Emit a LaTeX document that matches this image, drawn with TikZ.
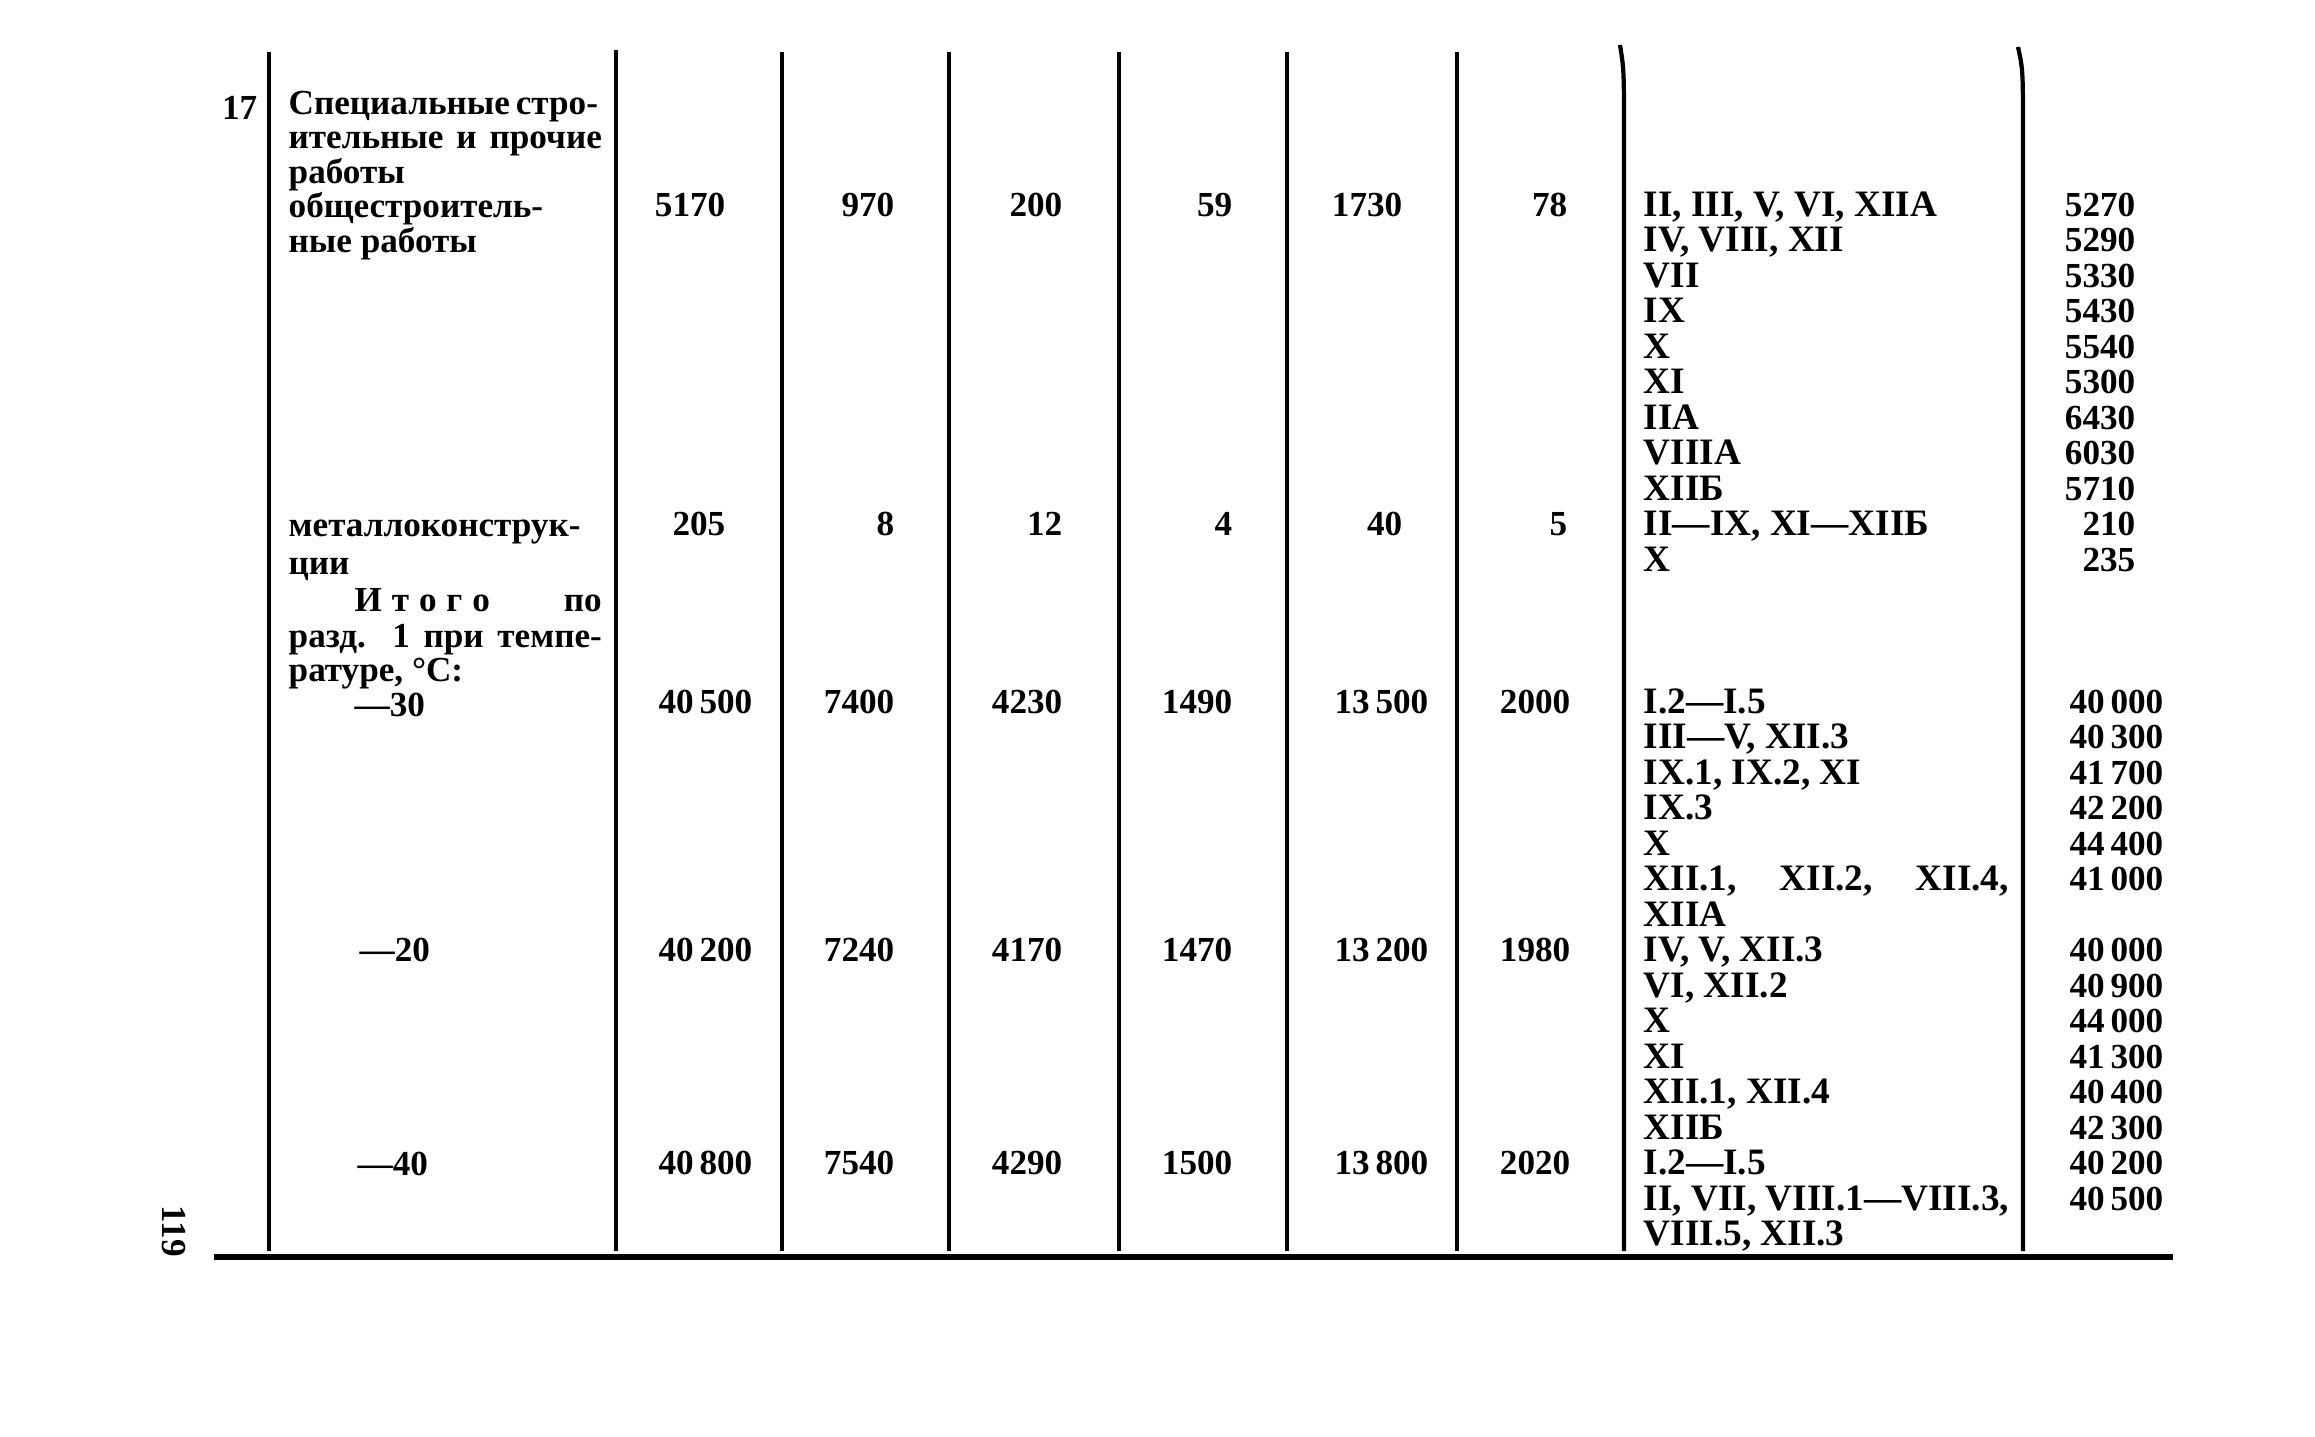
\documentclass[tikz,border=0pt]{standalone}
\usepackage{fontspec}
\setmainfont{Liberation Serif}
\tikzset{
  txt/.style={inner sep=0pt, anchor=mid west, yshift=-1.2pt, font=\fontsize{10}{10}\selectfont\bfseries},
  rom/.style={txt, font=\fontsize{10.6}{10.6}\selectfont\bfseries},
  num/.style={inner sep=0pt, anchor=mid east, yshift=-1.2pt, font=\fontsize{10}{10}\selectfont\bfseries},
  rule/.style={line width=1.2pt}
}
\begin{document}
\begin{tikzpicture}[x=0.01cm,y=-0.01cm]
\useasboundingbox (0,0) rectangle (2315,1437);
\draw [rule] (269,52) -- (269,1251);
\draw [rule] (616,50) -- (616,1251);
\draw [rule] (782,52) -- (782,1251);
\draw [rule] (949,52) -- (949,1251);
\draw [rule] (1119,52) -- (1119,1251);
\draw [rule] (1287,52) -- (1287,1251);
\draw [rule] (1457,52) -- (1457,1251);
\draw [rule] (1620,45) .. controls (1624,70) .. (1624,140) -- (1624,1251);
\draw [rule] (2018,47) .. controls (2023,70) .. (2023,140) -- (2023,1251);
\draw [line width=1.5pt] (214,1257) -- (2173,1257);
\node [num] (item) at (258,107) {17};
\node [txt, anchor=center, rotate=-90, yshift=1.2pt] (page) at (170,1227) {119};
\node [txt] (t1) at (288,102) {\makebox[3.03cm][s]{Специальные стро-}};
\node [txt] (t2) at (288,136) {\makebox[3.13cm][s]{ительные и прочие}};
\node [txt] (t3) at (288,171) {работы};
\node [txt] (t4) at (288,205) {общестроитель-};
\node [txt] (t5) at (288,240) {ные работы};
\node [txt] (t6) at (288,524) {металлоконструк-};
\node [txt] (t7) at (288,562) {ции};
\node [txt] (t8) at (354,599) {\makebox[2.47cm][s]{И\kern2.8ptт\kern2.8ptо\kern2.8ptг\kern2.8ptо\hfill по}};
\node [txt] (t9) at (288,635) {\makebox[3.13cm][s]{разд. 1 при темпе-}};
\node [txt] (t10) at (288,669) {ратуре, °C:};
\node [txt] (m30) at (354,704) {---30};
\node [txt] (m20) at (359,949) {---20};
\node [txt] (m40) at (357,1163) {---40};
\node [num] (a1) at (726,204) {5170};
\node [num] (a2) at (895,204) {970};
\node [num] (a3) at (1063,204) {200};
\node [num] (a4) at (1233,204) {59};
\node [num] (a5) at (1403,204) {1730};
\node [num] (a6) at (1568,204) {78};
\node [num] (b1) at (726,523) {205};
\node [num] (b2) at (895,523) {8};
\node [num] (b3) at (1063,523) {12};
\node [num] (b4) at (1233,523) {4};
\node [num] (b5) at (1403,523) {40};
\node [num] (b6) at (1568,523) {5};
\node [num] (c1) at (753,701) {40\,500};
\node [num] (c2) at (895,701) {7400};
\node [num] (c3) at (1063,701) {4230};
\node [num] (c4) at (1233,701) {1490};
\node [num] (c5) at (1429,701) {13\,500};
\node [num] (c6) at (1571,701) {2000};
\node [num] (d1) at (753,949) {40\,200};
\node [num] (d2) at (895,949) {7240};
\node [num] (d3) at (1063,949) {4170};
\node [num] (d4) at (1233,949) {1470};
\node [num] (d5) at (1429,949) {13\,200};
\node [num] (d6) at (1571,949) {1980};
\node [num] (e1) at (753,1162) {40\,800};
\node [num] (e2) at (895,1162) {7540};
\node [num] (e3) at (1063,1162) {4290};
\node [num] (e4) at (1233,1162) {1500};
\node [num] (e5) at (1429,1162) {13\,800};
\node [num] (e6) at (1571,1162) {2020};
\node [rom] (r0) at (1643,204) {II, III, V, VI, XIIA};
\node [rom] (r1) at (1643,239) {IV, VIII, XII};
\node [rom] (r2) at (1643,275) {VII};
\node [rom] (r3) at (1643,310) {IX};
\node [rom] (r4) at (1643,346) {X};
\node [rom] (r5) at (1643,381) {XI};
\node [rom] (r6) at (1643,417) {IIA};
\node [rom] (r7) at (1643,452) {VIIIA};
\node [rom] (r8) at (1643,488) {XIIБ};
\node [rom] (r9) at (1643,523) {II---IX, XI---XIIБ};
\node [rom] (r10) at (1643,559) {X};
\node [rom] (r14) at (1643,701) {I.2---I.5};
\node [rom] (r15) at (1643,736) {III---V, XII.3};
\node [rom] (r16) at (1643,772) {IX.1, IX.2, XI};
\node [rom] (r17) at (1643,807) {IX.3};
\node [rom] (r18) at (1643,843) {X};
\node [rom] (r19) at (1643,878) {\makebox[3.65cm][s]{XII.1, XII.2, XII.4,}};
\node [rom] (r20) at (1643,914) {XIIA};
\node [rom] (r21) at (1643,949) {IV, V, XII.3};
\node [rom] (r22) at (1643,985) {VI, XII.2};
\node [rom] (r23) at (1643,1020) {X};
\node [rom] (r24) at (1643,1056) {XI};
\node [rom] (r25) at (1643,1091) {XII.1, XII.4};
\node [rom] (r26) at (1643,1127) {XIIБ};
\node [rom] (r27) at (1643,1162) {I.2---I.5};
\node [rom] (r28) at (1643,1198) {II, VII, VIII.1---VIII.3,};
\node [rom] (r29) at (1643,1233) {VIII.5, XII.3};
\node [num] (v0) at (2136,204) {5270};
\node [num] (v1) at (2136,239) {5290};
\node [num] (v2) at (2136,275) {5330};
\node [num] (v3) at (2136,310) {5430};
\node [num] (v4) at (2136,346) {5540};
\node [num] (v5) at (2136,381) {5300};
\node [num] (v6) at (2136,417) {6430};
\node [num] (v7) at (2136,452) {6030};
\node [num] (v8) at (2136,488) {5710};
\node [num] (v9) at (2136,523) {210};
\node [num] (v10) at (2136,559) {235};
\node [num] (v14) at (2164,701) {40\,000};
\node [num] (v15) at (2164,736) {40\,300};
\node [num] (v16) at (2164,772) {41\,700};
\node [num] (v17) at (2164,807) {42\,200};
\node [num] (v18) at (2164,843) {44\,400};
\node [num] (v19) at (2164,878) {41\,000};
\node [num] (v21) at (2164,949) {40\,000};
\node [num] (v22) at (2164,985) {40\,900};
\node [num] (v23) at (2164,1020) {44\,000};
\node [num] (v24) at (2164,1056) {41\,300};
\node [num] (v25) at (2164,1091) {40\,400};
\node [num] (v26) at (2164,1127) {42\,300};
\node [num] (v27) at (2164,1162) {40\,200};
\node [num] (v28) at (2164,1198) {40\,500};
\end{tikzpicture}
\end{document}
